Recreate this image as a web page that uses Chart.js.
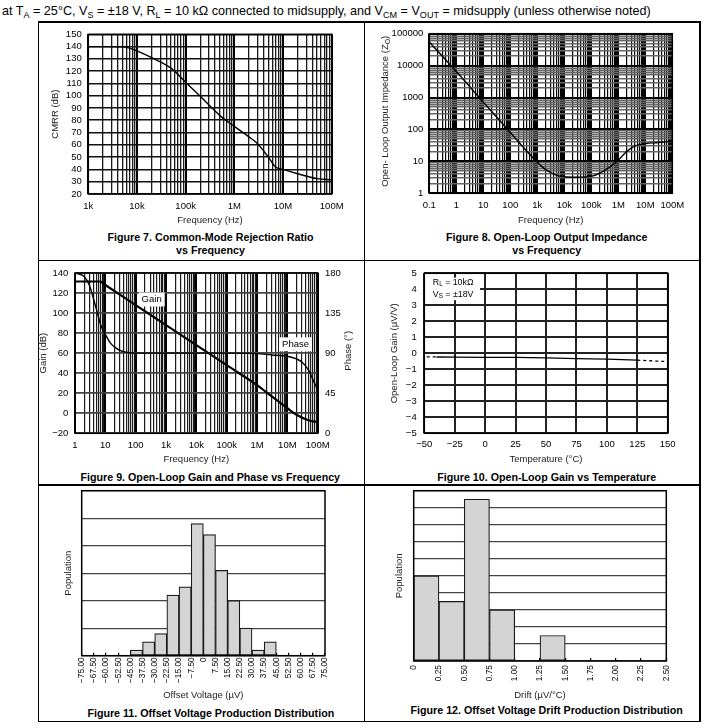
<!DOCTYPE html>
<html>
<head>
<meta charset="utf-8">
<title>Typical characteristics</title>
<script src="https://cdn.jsdelivr.net/npm/chart.js@4.4.1/dist/chart.umd.min.js"></script>
<style>
  html, body { margin: 0; padding: 0; background: #fff; }
  body { position: relative; width: 725px; height: 728px; overflow: hidden; font-family: "Liberation Sans", Arial, sans-serif; color: #000; }
  canvas { position: absolute; }
  .rule { position: absolute; background: #000; }
  .cap { position: absolute; transform: translate(-50%, -50%); white-space: nowrap; font-weight: bold; font-size: 10.7px; line-height: 1; }
  #hdr { position: absolute; left: 2px; top: 5px; white-space: nowrap; font-size: 12.6px; line-height: 1; }
  #hdr sub { font-size: 72%; line-height: 0; vertical-align: -0.3em; }
</style>
</head>
<body>
<div id="hdr">at T<sub>A</sub> = 25°C, V<sub>S</sub> = ±18 V, R<sub>L</sub> = 10 kΩ connected to midsupply, and V<sub>CM</sub> = V<sub>OUT</sub> = midsupply (unless otherwise noted)</div>

<div class="rule" style="left:37.5px;top:21px;width:663px;height:1.5px"></div>
<div class="rule" style="left:37.5px;top:259.8px;width:663px;height:1.5px"></div>
<div class="rule" style="left:37.5px;top:484.3px;width:663px;height:1.5px"></div>
<div class="rule" style="left:37.5px;top:720.5px;width:663px;height:1.5px"></div>
<div class="rule" style="left:37.5px;top:21px;width:1.5px;height:701px"></div>
<div class="rule" style="left:363.5px;top:21px;width:1.5px;height:701px"></div>
<div class="rule" style="left:699px;top:21px;width:1.5px;height:701px"></div>

<div class="cap" style="left:210.5px;top:236.7px">Figure 7. Common-Mode Rejection Ratio</div>
<div class="cap" style="left:210.5px;top:250px">vs Frequency</div>
<div class="cap" style="left:546.7px;top:236.7px">Figure 8. Open-Loop Output Impedance</div>
<div class="cap" style="left:546.7px;top:250px">vs Frequency</div>
<div class="cap" style="left:210.3px;top:476.7px">Figure 9. Open-Loop Gain and Phase vs Frequency</div>
<div class="cap" style="left:546.7px;top:476.7px">Figure 10. Open-Loop Gain vs Temperature</div>
<div class="cap" style="left:210.8px;top:712.7px">Figure 11. Offset Voltage Production Distribution</div>
<div class="cap" style="left:546.7px;top:710.3px">Figure 12. Offset Voltage Drift Production Distribution</div>

<script>
const FONT = "'Liberation Sans', Arial, sans-serif";

// Figure 7 - CMRR vs frequency
const cmrrFreq = [1e3, 2e3, 5e3, 7e3, 1e4, 2e4, 5e4, 1e5, 2e5, 5e5, 1e6, 2e6, 3e6, 4e6, 5e6, 7e6, 1e7, 2e7, 5e7, 1e8];
const cmrrDb = [140, 140, 139.8, 138.8, 136.5, 131, 122.5, 111, 99.5, 84, 75, 66.5, 61, 55, 50, 42, 40, 36.5, 32.5, 31.5];
const cmrrXTicks = [1e3, 1e4, 1e5, 1e6, 1e7, 1e8];
const cmrrXLabels = ["1k", "10k", "100k", "1M", "10M", "100M"];
const cmrrYTicks = [20, 30, 40, 50, 60, 70, 80, 90, 100, 110, 120, 130, 140, 150];

// Figure 8 - open-loop output impedance
const zoFreq = [0.1, 1, 10, 100, 300, 1e3, 2e3, 5e3, 1e4, 3e4, 1e5, 2e5, 5e5, 1e6, 2e6, 4e6, 1e7, 3e7, 1e8];
const zoOhm = [55000, 6500, 720, 80, 28, 9.5, 5.6, 3.7, 3.3, 3.2, 3.4, 4.2, 6.8, 11, 20, 30, 36, 39, 43];
const zoXTicks = [0.1, 1, 10, 100, 1e3, 1e4, 1e5, 1e6, 1e7, 1e8];
const zoXLabels = ["0.1", "1", "10", "100", "1k", "10k", "100k", "1M", "10M", "100M"];
const zoYTicks = [1, 10, 100, 1000, 10000, 100000];
const zoYLabels = ["1", "10", "100", "1000", "10000", "100000"];

// Figure 9 - open-loop gain and phase
const gainFreq = [1, 6.7, 10, 100, 1e3, 1e4, 1e5, 1e6, 3e6, 1e7, 2e7, 5e7, 1e8];
const gainDb = [131.5, 131.5, 128, 108, 88, 68, 48, 28, 17, 5, -1.5, -7, -9];
const phaseFreq = [1, 2, 3, 4, 5, 6, 7, 8, 10, 15, 20, 30, 50, 100, 1e5, 1e6, 3e6, 1e7, 2e7, 3e7, 5e7, 7e7, 1e8];
const phaseDeg = [180, 176, 166, 152, 140, 130, 122, 117, 111, 101, 97, 93, 91, 90, 90, 89.5, 88, 86.5, 83.5, 80, 71, 60, 49];
const olXTicks = [1, 10, 100, 1e3, 1e4, 1e5, 1e6, 1e7, 1e8];
const olXLabels = ["1", "10", "100", "1k", "10k", "100k", "1M", "10M", "100M"];
const gainTicks = [-20, 0, 20, 40, 60, 80, 100, 120, 140];
const phaseTicks = [0, 45, 90, 135, 180];

// Figure 10 - open-loop gain vs temperature
const tempCold = [-48, -40];
const aolCold = [-0.22, -0.23];
const tempMid = [-40, -25, 0, 25, 50, 75, 100, 125];
const aolMid = [-0.23, -0.24, -0.25, -0.26, -0.29, -0.33, -0.36, -0.43];
const tempHot = [125, 150];
const aolHot = [-0.43, -0.52];
const tempTicks = [-50, -25, 0, 25, 50, 75, 100, 125, 150];
const aolTicks = [-5, -4, -3, -2, -1, 0, 1, 2, 3, 4, 5];

// Figure 11 - offset voltage histogram
const vosEdges = [-75, -67.5, -60, -52.5, -45, -37.5, -30, -22.5, -15, -7.5, 0, 7.5, 15, 22.5, 30, 37.5, 45, 52.5, 60, 67.5, 75];
const vosCounts = [0, 0, 0, 0, 2, 5, 8, 22, 25, 48, 44, 31, 20, 10, 2, 5, 0, 0, 0, 0];
const vosGrid = [0, 10, 20, 30, 40, 50, 60];

// Figure 12 - offset drift histogram
const driftEdges = [0, 0.25, 0.5, 0.75, 1, 1.25, 1.5, 1.75, 2, 2.25, 2.5];
const driftCounts = [50, 35, 95, 30, 0, 15, 0, 0, 0, 0];
const driftGrid = [0, 10, 20, 30, 40, 50, 60, 70, 80, 90, 100];

Chart.defaults.font.family = FONT;
Chart.defaults.font.size = 9.5;
Chart.defaults.color = "#000";
Chart.defaults.animation = false;
Chart.defaults.responsive = false;
Chart.defaults.devicePixelRatio = 1;
Chart.defaults.plugins.legend.display = false;
Chart.defaults.plugins.tooltip.enabled = false;
Chart.defaults.elements.point.radius = 0;

const HALF = 9.5 * 1.2 / 2;

// work out padding and axis sizes so the plot area lands where it should
function frame(cell, plot, t) {
  const yW = plot.l - (t.y - HALF);
  const xH = t.x + HALF - plot.b;
  const y2W = t.y2 ? t.y2 + HALF - plot.r : 0;
  return {
    yW, xH, y2W,
    padding: { left: t.y - HALF - cell.l, top: plot.t - cell.t, right: cell.r - plot.r - y2W, bottom: cell.b - t.x - HALF }
  };
}

function setup(id, cell) {
  const c = document.createElement("canvas");
  c.id = id;
  c.width = cell.r - cell.l;
  c.height = cell.b - cell.t;
  c.style.left = cell.l + "px";
  c.style.top = cell.t + "px";
  c.style.width = c.width + "px";
  c.style.height = c.height + "px";
  document.body.appendChild(c);
  return c;
}

const setTicks = vals => s => { s.ticks = vals.map(v => ({ value: v })); };
const logGrid = decs => {
  const out = [];
  decs.forEach((d, i) => {
    out.push(d);
    if (i < decs.length - 1) for (let m = 2; m <= 9; m++) out.push(m * d);
  });
  return out;
};
const minus = v => (v < 0 ? "\u2212" : "") + Math.abs(v);
const pts = (xs, ys) => xs.map((x, i) => ({ x, y: ys[i] }));

function logAxis(decs, labels, size, pad, title, minor, horizontal) {
  return {
    type: "logarithmic",
    min: decs[0],
    max: decs[decs.length - 1],
    afterBuildTicks: setTicks(logGrid(decs)),
    afterFit: s => { if (horizontal) s.height = size; else s.width = size; },
    ticks: {
      autoSkip: false, maxRotation: 0, minRotation: 0, padding: pad,
      callback: v => { const k = decs.indexOf(v); return k < 0 ? "" : labels[k]; }
    },
    grid: {
      drawTicks: false,
      color: c => (c.tick && decs.includes(c.tick.value)) ? "#000" : minor.color,
      lineWidth: c => (c.tick && decs.includes(c.tick.value)) ? 2 : minor.width
    },
    border: { display: false },
    title: title ? { display: true, text: title, padding: 0, color: "#222" } : { display: false }
  };
}

function linAxis(vals, size, pad, title, grid, horizontal, fmt) {
  return {
    type: "linear",
    min: vals[0],
    max: vals[vals.length - 1],
    afterBuildTicks: setTicks(vals),
    afterFit: s => { if (horizontal) s.height = size; else s.width = size; },
    ticks: { autoSkip: false, maxRotation: 0, minRotation: 0, padding: pad, callback: fmt || (v => minus(v)) },
    grid: Object.assign({ drawTicks: false }, grid),
    border: { display: false },
    title: title ? { display: true, text: title, padding: 0, color: "#222" } : { display: false }
  };
}

const frameBox = {
  id: "frameBox",
  afterDatasetsDraw(chart) {
    const { ctx, chartArea: a } = chart;
    ctx.save();
    ctx.strokeStyle = "#000";
    ctx.lineWidth = 1.5;
    ctx.strokeRect(a.left, a.top, a.right - a.left, a.bottom - a.top);
    ctx.restore();
  }
};

// text with subscripts: parts = [[text, isSub], ...]
function richText(ctx, parts, x, y, size, align) {
  const sub = size * 0.72;
  const widths = parts.map(([t, s]) => { ctx.font = (s ? sub : size) + "px " + FONT; return ctx.measureText(t).width; });
  const total = widths.reduce((a, b) => a + b, 0);
  let cx = align === "left" ? x : x - total / 2;
  ctx.textAlign = "left";
  ctx.textBaseline = "middle";
  parts.forEach(([t, s], i) => {
    ctx.font = (s ? sub : size) + "px " + FONT;
    ctx.fillText(t, cx, s ? y + size * 0.28 : y);
    cx += widths[i];
  });
  return total;
}

// ---------- Figure 7
const c7 = { l: 38, t: 22, r: 364, b: 260 };
const p7 = { l: 88.3, t: 29.3, r: 331.7, b: 194 };
const f7 = frame(c7, p7, { y: 55, x: 220 });
new Chart(setup("fig7", c7), {
  type: "line",
  data: { datasets: [{ data: pts(cmrrFreq, cmrrDb), borderColor: "#000", borderWidth: 1.4, cubicInterpolationMode: "monotone" }] },
  options: {
    layout: { padding: f7.padding },
    scales: {
      x: logAxis(cmrrXTicks, cmrrXLabels, f7.xH, 7, "Frequency (Hz)", { color: "#1a1a1a", width: 1.3 }, true),
      y: linAxis(cmrrYTicks, f7.yW, 6.6, "CMRR (dB)", { color: "#111", lineWidth: 1.6 }, false)
    }
  },
  plugins: [frameBox]
});

// ---------- Figure 8
const c8 = { l: 364, t: 22, r: 700, b: 260 };
const p8 = { l: 429.3, t: 29.3, r: 672.3, b: 193.3 };
const t8 = { y: 385, x: 220 };
const f8 = frame(c8, p8, t8);
new Chart(setup("fig8", c8), {
  type: "line",
  data: { datasets: [{ data: pts(zoFreq, zoOhm), borderColor: "#000", borderWidth: 1.4, cubicInterpolationMode: "monotone" }] },
  options: {
    layout: { padding: f8.padding },
    scales: {
      x: logAxis(zoXTicks, zoXLabels, f8.xH, 6.7, "Frequency (Hz)", { color: "#000", width: 1.2 }, true),
      y: logAxis(zoYTicks, zoYLabels, f8.yW, 6, null, { color: "#666", width: 1.5 }, false)
    }
  },
  plugins: [frameBox, {
    id: "zoTitle",
    afterDraw(chart) {
      const ctx = chart.ctx;
      ctx.save();
      ctx.translate(t8.y - c8.l, (p8.t + p8.b) / 2 - c8.t);
      ctx.rotate(-Math.PI / 2);
      ctx.fillStyle = "#222";
      richText(ctx, [["Open- Loop Output Impedance (Z", 0], ["O", 1], [")", 0]], 0, 0, 9.5, "center");
      ctx.restore();
    }
  }]
});

// ---------- Figure 9
const c9 = { l: 38, t: 260, r: 364, b: 485 };
const p9 = { l: 75, t: 268.3, r: 317.7, b: 433.3 };
const t9 = { y: 43.3, x: 459.3, y2: 348 };
const f9 = frame(c9, p9, t9);
new Chart(setup("fig9", c9), {
  type: "line",
  data: {
    datasets: [
      { data: pts(gainFreq, gainDb), yAxisID: "y", borderColor: "#000", borderWidth: 2.2, cubicInterpolationMode: "monotone" },
      { data: pts(phaseFreq, phaseDeg), yAxisID: "y2", borderColor: "#000", borderWidth: 1.4, cubicInterpolationMode: "monotone" }
    ]
  },
  options: {
    layout: { padding: f9.padding },
    scales: {
      x: logAxis(olXTicks, olXLabels, f9.xH, 6, "Frequency (Hz)", { color: "#1a1a1a", width: 1.2 }, true),
      y: linAxis(gainTicks, f9.yW, 6.7, "Gain (dB)", { color: "#444", lineWidth: 1.8 }, false),
      y2: Object.assign(linAxis(phaseTicks, f9.y2W, 7.3, null, { drawOnChartArea: false }, false), { position: "right" })
    }
  },
  plugins: [frameBox, {
    id: "olLabels",
    beforeDatasetsDraw(chart) {
      const { ctx, scales: { x, y } } = chart;
      ctx.save();
      ctx.font = "9.5px " + FONT;
      [["Gain", 336, 113.6], ["Phase", 1.86e7, 68.8]].forEach(([t, fx, gy]) => {
        const px = x.getPixelForValue(fx), py = y.getPixelForValue(gy);
        const w = ctx.measureText(t).width;
        ctx.fillStyle = "#fff";
        ctx.fillRect(px - w / 2 - 3, py - 7, w + 6, 14);
        ctx.fillStyle = "#000";
        ctx.textAlign = "center";
        ctx.textBaseline = "middle";
        ctx.fillText(t, px, py);
      });
      ctx.restore();
    },
    afterDraw(chart) {
      const ctx = chart.ctx;
      ctx.save();
      ctx.translate(t9.y2 - c9.l, (p9.t + p9.b) / 2 - c9.t);
      ctx.rotate(-Math.PI / 2);
      ctx.fillStyle = "#222";
      richText(ctx, [["Phase (°)", 0]], 0, 0, 9.5, "center");
      ctx.restore();
    }
  }]
});

// ---------- Figure 10
const c10 = { l: 364, t: 260, r: 700, b: 485 };
const p10 = { l: 424.3, t: 268.3, r: 667.7, b: 433.3 };
const f10 = frame(c10, p10, { y: 394, x: 459.3 });
new Chart(setup("fig10", c10), {
  type: "line",
  data: {
    datasets: [
      { data: pts(tempCold, aolCold), borderColor: "#000", borderWidth: 1.3, borderDash: [3, 3] },
      { data: pts(tempMid, aolMid), borderColor: "#000", borderWidth: 1.3 },
      { data: pts(tempHot, aolHot), borderColor: "#000", borderWidth: 1.3, borderDash: [3, 3] }
    ]
  },
  options: {
    layout: { padding: f10.padding },
    scales: {
      x: linAxis(tempTicks, f10.xH, 5.3, "Temperature (°C)", { color: "#222", lineWidth: 2 }, true),
      y: linAxis(aolTicks, f10.yW, 7.6, "Open-Loop Gain (µV/V)", { color: "#222", lineWidth: 2 }, false)
    }
  },
  plugins: [frameBox, {
    id: "condBox",
    beforeDatasetsDraw(chart) {
      const { ctx, scales: { x, y } } = chart;
      const x0 = x.getPixelForValue(-50), x1 = x.getPixelForValue(-4.2);
      const y0 = y.getPixelForValue(4.73), y1 = y.getPixelForValue(3.32);
      ctx.save();
      ctx.fillStyle = "#fff";
      ctx.fillRect(x0, y0, x1 - x0, y1 - y0);
      ctx.fillStyle = "#000";
      const tx = x.getPixelForValue(-43);
      richText(ctx, [["R", 0], ["L", 1], [" = 10kΩ", 0]], tx, y.getPixelForValue(4.45), 8.8, "left");
      richText(ctx, [["V", 0], ["S", 1], [" = ±18V", 0]], tx, y.getPixelForValue(3.7), 8.8, "left");
      ctx.restore();
    }
  }]
});

// ---------- histograms
function histogram(id, cell, plot, titles, edges, counts, grid, fmt, xTitle, pad) {
  const f = frame(cell, plot, titles);
  return new Chart(setup(id, cell), {
    type: "bar",
    data: {
      datasets: [{
        data: counts.map((c, i) => ({ x: (edges[i] + edges[i + 1]) / 2, y: c })),
        backgroundColor: "#d4d4d4",
        borderColor: "#1a1a1a",
        borderWidth: 1.2,
        borderSkipped: false,
        categoryPercentage: 1,
        barPercentage: 1
      }]
    },
    options: {
      layout: { padding: f.padding },
      scales: {
        x: {
          type: "linear", min: edges[0], max: edges[edges.length - 1], offset: false,
          afterBuildTicks: setTicks(edges),
          afterFit: s => { s.height = f.xH; },
          ticks: { autoSkip: false, minRotation: 90, maxRotation: 90, padding: pad, font: { size: 8.4 }, callback: fmt },
          grid: { offset: false, drawOnChartArea: false, drawTicks: true, tickLength: -3, color: "#000", lineWidth: 1.2 },
          border: { display: false },
          title: { display: true, text: xTitle, padding: 0, color: "#222" }
        },
        y: {
          type: "linear", min: grid[0], max: grid[grid.length - 1],
          afterBuildTicks: setTicks(grid),
          afterFit: s => { s.width = f.yW; },
          ticks: { display: false },
          grid: { drawTicks: false, color: "#444", lineWidth: 1.3 },
          border: { display: false },
          title: { display: true, text: "Population", padding: 0, color: "#222" }
        }
      }
    },
    plugins: [frameBox]
  });
}

histogram("fig11", { l: 38, t: 485, r: 364, b: 721 }, { l: 81.7, t: 490.7, r: 325, b: 655.7 }, { y: 68.3, x: 695.7 },
  vosEdges, vosCounts, vosGrid, v => v === 0 ? "0" : (v < 0 ? "\u2212" : "") + Math.abs(v).toFixed(2), "Offset Voltage (µV)", 4.6);

histogram("fig12", { l: 364, t: 485, r: 700, b: 721 }, { l: 413.7, t: 490.7, r: 666.3, b: 661 }, { y: 399.3, x: 695 },
  driftEdges, driftCounts, driftGrid, v => v === 0 ? "0" : v.toFixed(2), "Drift (µV/°C)", 7);
</script>
</body>
</html>
